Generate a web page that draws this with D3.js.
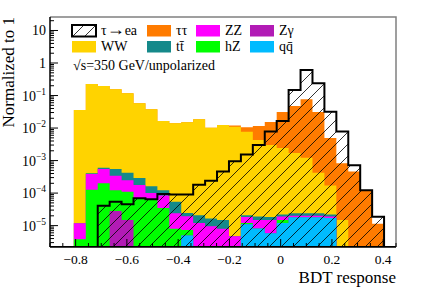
<!DOCTYPE html>
<html>
<head>
<style>
  body { margin: 0; background: #fff; }
  svg { display: block; }
  text { font-family: "Liberation Serif", "DejaVu Serif", serif; fill: #000; }
</style>
</head>
<body>
<svg width="426" height="290"></svg>

<script src="https://d3js.org/d3.v7.min.js"></script>
<script>
  // histogram binning: 29 bins over the visible range
  const binLow = -0.9, binHigh = 0.45, nBins = 29;

  // per-bin contents (normalized to 1)
  const signal = [0, 0, 0, 0, 4.1e-5, 5.4e-5, 4.5e-5, 7.0e-5, 6.5e-5, 9.3e-5, 9.1e-5, 9.1e-5, 1.8e-4, 2.4e-4,
                  4.6e-4, 9.5e-4, 1.55e-3, 3.0e-3, 7.8e-3, 0.0164, 0.148, 0.61, 0.237, 0.0316, 7.8e-3, 7.2e-4, 1.23e-4, 1.86e-5, 0];
  const tautau = [0, 0, 0, 0, 0, 0, 0, 0, 0, 0, 0, 0, 0, 0, 0, 1e-3, 2.8e-3, 7.2e-3, 0.0123, 0.0286, 0.046, 0.075, 0.0306,
                  4.75e-3, 8.1e-4, 4.6e-4, 1.23e-4, 1.15e-5, 0];
  const ww = [0, 0, 0.0358, 0.226, 0.196, 0.155, 0.117, 0.0575, 0.0376, 0.0164, 0.014, 0.015, 0.0185, 0.0102, 0.0124,
              0.011, 7.7e-3, 4.3e-3, 3e-3, 2.4e-3, 1.7e-3, 1.2e-3, 4e-4, 1.5e-4, 1.5e-5, 0, 0, 0, 0];
  const ttbar = [0, 0, 0, 2e-5, 5e-5, 2.1e-4, 1.7e-4, 1.14e-4, 6e-5, 3.7e-5, 3e-5, 5e-6, 9e-6, 7e-6, 7e-6, 0,
                 2.5e-6, 4e-6, 3.5e-6, 3e-6, 4e-6, 4e-6, 4e-6, 3e-6, 0, 0, 0, 0, 0];
  const zz = [0, 0, 8e-6, 2.6e-4, 3.5e-4, 2.2e-4, 1.4e-4, 1.06e-4, 4e-5, 5e-5, 1.6e-5, 1.2e-5, 1.2e-5, 9.6e-6, 8e-6,
              4.7e-6, 6.5e-6, 6.8e-6, 9.2e-6, 4e-6, 2e-6, 2e-6, 2e-6, 2e-6, 0, 0, 0, 0, 0];
  const hz = [0, 0, 3.8e-6, 1.27e-4, 2.0e-4, 9.5e-5, 9.5e-5, 7e-5, 6.1e-5, 3.5e-5, 8e-6, 2.3e-6, 0, 0, 0, 0,
              1e-6, 0, 0, 3e-6, 0, 0, 0, 0, 0, 0, 0, 0, 0];
  const zgamma = [0, 0, 0, 0, 0, 2.8e-5, 1.5e-5, 0, 0, 0, 0, 0, 0, 0, 0, 0, 0, 0, 0, 0, 0, 0, 0, 0, 0, 0, 0, 0, 0];
  const qq = [0, 0, 0, 0, 0, 0, 0, 0, 0, 0, 0, 5e-6, 0, 0, 0, 0, 1.1e-5, 8.2e-6, 5.8e-6, 1.2e-5, 1.8e-5, 1.8e-5, 1.8e-5,
              1.7e-5, 0, 0, 0, 0, 0];

  const xTicks = [-0.8, -0.6, -0.4, -0.2, 0, 0.2, 0.4];
  const yDecades = [-5, -4, -3, -2, -1, 0, 1];

  // stacking order, bottom to top
  const stack = [
    { name: "qq", values: qq, color: "#00bbff" },
    { name: "Zgamma", values: zgamma, color: "#b21bb5" },
    { name: "hZ", values: hz, color: "#00ff00" },
    { name: "ZZ", values: zz, color: "#ff00ff" },
    { name: "ttbar", values: ttbar, color: "#15898a" },
    { name: "WW", values: ww, color: "#ffd300" },
    { name: "tautau", values: tautau, color: "#ff7b00" }
  ];

  const margin = { left: 50, right: 30, top: 17, bottom: 43 };
  const width = 426, height = 290;
  const yMin = 2.2e-6, yMax = 26;

  const x = d3.scaleLinear().domain([binLow, binHigh]).range([margin.left, width - margin.right]);
  const y = d3.scaleLog().domain([yMin, yMax]).range([height - margin.bottom, margin.top]);
  const edges = d3.range(nBins + 1).map(function(i) { return binLow + i * (binHigh - binLow) / nBins; });

  const svg = d3.select("svg");
  const yBottom = y(yMin);

  function yc(v) { return v <= yMin ? yBottom : Math.max(y(v), margin.top); }

  // closed step shape of a histogram
  function stepArea(vals) {
    let d = "M" + x(edges[0]) + "," + yBottom;
    vals.forEach(function(v, i) {
      d += "L" + x(edges[i]) + "," + yc(v) + "L" + x(edges[i + 1]) + "," + yc(v);
    });
    return d + "L" + x(edges[nBins]) + "," + yBottom + "Z";
  }

  const defs = svg.append("defs");
  defs.append("clipPath").attr("id", "frame")
    .append("rect")
    .attr("x", margin.left).attr("y", margin.top)
    .attr("width", width - margin.left - margin.right)
    .attr("height", height - margin.top - margin.bottom);

  const hatch = defs.append("pattern")
    .attr("id", "hatch")
    .attr("patternUnits", "userSpaceOnUse")
    .attr("width", 12).attr("height", 12);
  hatch.append("path")
    .attr("d", "M0,12L12,0M-3,3L3,-3M9,15L15,9")
    .attr("stroke", "#000").attr("stroke-width", 0.8);

  const plot = svg.append("g").attr("clip-path", "url(#frame)");

  // cumulative sums, drawn from the full stack down (THStack style)
  let cum = d3.range(nBins).map(function() { return 0; });
  const layers = stack.map(function(s) {
    cum = cum.map(function(c, i) { return c + s.values[i]; });
    return { color: s.color, tops: cum.slice() };
  });
  layers.slice().reverse().forEach(function(l) {
    plot.append("path").attr("d", stepArea(l.tops)).attr("fill", l.color).attr("stroke", "none");
  });

  // qq line sits on the bottom where it is empty
  plot.append("line")
    .attr("x1", x(edges[0])).attr("x2", x(edges[nBins]))
    .attr("y1", yBottom - 0.5).attr("y2", yBottom - 0.5)
    .attr("stroke", "#00bbff").attr("stroke-width", 1);

  // signal: hatched, thick outline
  plot.append("path")
    .attr("d", stepArea(signal))
    .attr("fill", "url(#hatch)")
    .attr("stroke", "#000").attr("stroke-width", 2).attr("stroke-linejoin", "miter");

  // frame
  svg.append("path")
    .attr("d", "M" + margin.left + "," + margin.top + "H" + (width - margin.right) + "V" + yBottom)
    .attr("fill", "none").attr("stroke", "#808080").attr("stroke-width", 1.5);

  // x axis
  const xAxis = svg.append("g");
  xAxis.append("line")
    .attr("x1", margin.left).attr("x2", width - margin.right)
    .attr("y1", yBottom).attr("y2", yBottom)
    .attr("stroke", "#000").attr("stroke-width", 1.5);
  const xMinor = d3.range(-0.9, 0.4501, 0.05);
  xAxis.selectAll("line.minor").data(xMinor).enter().append("line")
    .attr("x1", function(d) { return x(d); }).attr("x2", function(d) { return x(d); })
    .attr("y1", yBottom).attr("y2", function(d) {
      const major = Math.abs(d * 5 - Math.round(d * 5)) < 1e-6;
      return yBottom - (major ? 8 : 4);
    })
    .attr("stroke", "#000").attr("stroke-width", 1);
  xAxis.selectAll("text").data(xTicks).enter().append("text")
    .attr("x", function(d) { return x(d); })
    .attr("y", 263.5)
    .attr("text-anchor", "middle")
    .style("font-size", "13.5px")
    .text(function(d) { return d === 0 ? "0" : (d < 0 ? "\u2212" : "") + Math.abs(d).toFixed(1); });
  svg.append("text")
    .attr("x", width - margin.right).attr("y", 283)
    .attr("text-anchor", "end")
    .style("font-size", "17px")
    .text("BDT response");

  // y axis (log)
  const yAxis = svg.append("g");
  yAxis.append("line")
    .attr("x1", margin.left).attr("x2", margin.left)
    .attr("y1", margin.top).attr("y2", yBottom)
    .attr("stroke", "#000").attr("stroke-width", 1.5);
  const yMinor = [];
  for (let e = -6; e <= 1; e++) {
    for (let m = 1; m <= 9; m++) {
      const v = m * Math.pow(10, e);
      if (v >= yMin && v <= yMax) yMinor.push({ v: v, major: m === 1 });
    }
  }
  yAxis.selectAll("line.tick").data(yMinor).enter().append("line")
    .attr("x1", margin.left).attr("x2", function(d) { return margin.left + (d.major ? 8 : 4); })
    .attr("y1", function(d) { return y(d.v); }).attr("y2", function(d) { return y(d.v); })
    .attr("stroke", "#000").attr("stroke-width", 1);
  const yLab = yAxis.selectAll("text").data(yDecades).enter().append("text")
    .attr("x", 46)
    .attr("y", function(d) { return y(Math.pow(10, d)) + 5; })
    .attr("text-anchor", "end")
    .style("font-size", "14px");
  yLab.each(function(d) {
    const t = d3.select(this);
    if (d === 0) { t.text("1"); return; }
    t.append("tspan").text("10");
    if (d !== 1) {
      t.append("tspan").attr("dy", -6).style("font-size", "9.5px").text("\u2212" + Math.abs(d));
    }
  });
  svg.append("text")
    .attr("transform", "translate(13.5," + margin.top + ") rotate(-90)")
    .attr("text-anchor", "end")
    .style("font-size", "17px")
    .text("Normalized to 1");

  // legend
  const legendItems = [
    { label: ["\u03c4", "\u2192", "ea"], color: null, col: 0, row: 0 },
    { label: ["\u03c4\u03c4"], color: "#ff7b00", col: 1, row: 0 },
    { label: ["ZZ"], color: "#ff00ff", col: 2, row: 0 },
    { label: ["Z\u03b3"], color: "#b21bb5", col: 3, row: 0 },
    { label: ["WW"], color: "#ffd300", col: 0, row: 1 },
    { label: ["t\u0074\u0304"], color: "#15898a", col: 1, row: 1 },
    { label: ["hZ"], color: "#00ff00", col: 2, row: 1 },
    { label: ["q\u0071\u0304"], color: "#00bbff", col: 3, row: 1 }
  ];
  const colX = [72, 147, 196, 250];
  const rowY = [25, 41];
  const leg = svg.append("g").selectAll("g").data(legendItems).enter().append("g")
    .attr("transform", function(d) { return "translate(" + colX[d.col] + "," + rowY[d.row] + ")"; });
  leg.append("rect")
    .attr("width", 24).attr("height", 11.5)
    .attr("fill", function(d) { return d.color ? d.color : "url(#hatch)"; })
    .attr("stroke", function(d) { return d.color ? "none" : "#000"; })
    .attr("stroke-width", 2);
  leg.append("text")
    .attr("x", 29).attr("y", 10)
    .style("font-size", "14px")
    .each(function(d) {
      const t = d3.select(this);
      d.label.forEach(function(part) {
        t.append("tspan")
          .style("font-size", part === "\u2192" ? "18px" : null)
          .text(part);
      });
    });

  svg.append("text")
    .attr("x", 73).attr("y", 69.5)
    .style("font-size", "14px")
    .text("\u221as=350 GeV/unpolarized");
</script>
</body>
</html>
